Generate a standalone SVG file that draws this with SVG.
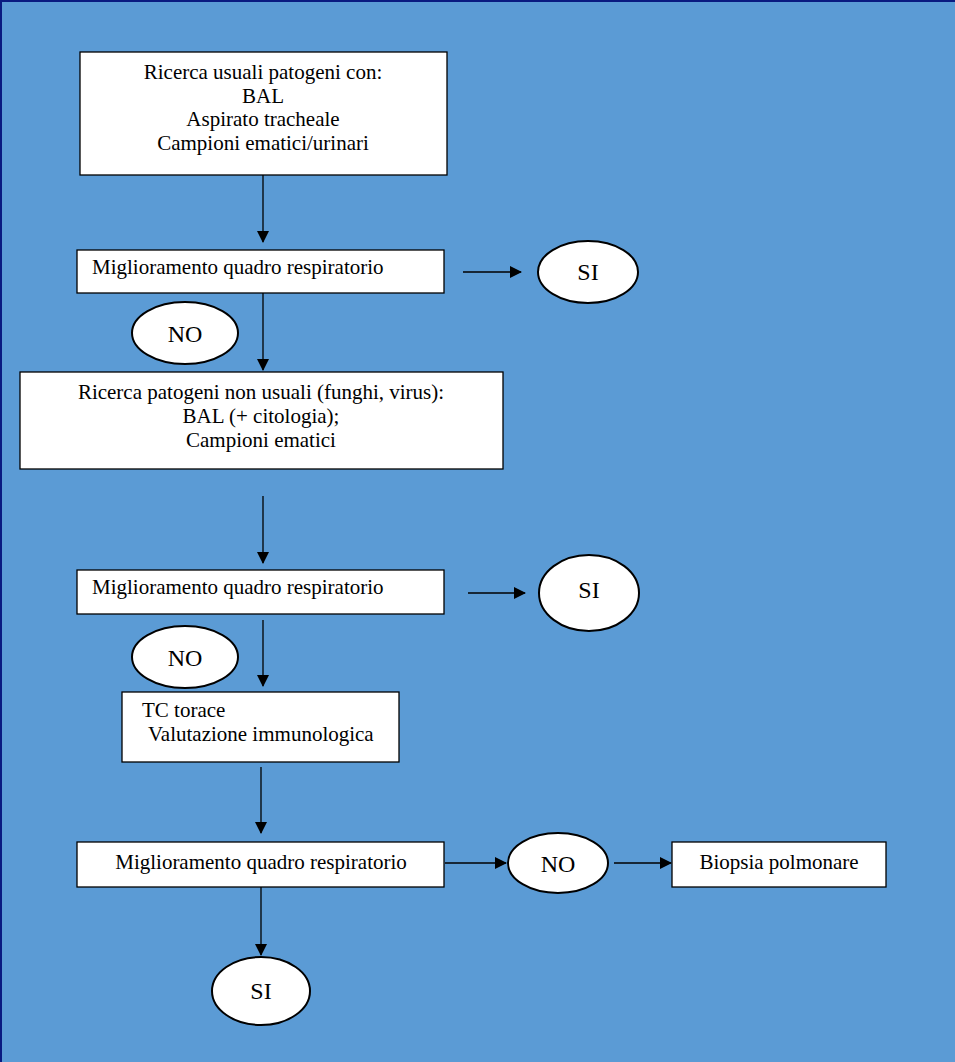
<svg xmlns="http://www.w3.org/2000/svg" width="955" height="1062" viewBox="0 0 955 1062">
<defs>
<marker id="ah" markerWidth="12" markerHeight="12" refX="11" refY="6" orient="auto" markerUnits="userSpaceOnUse">
<path d="M0,0 L12,6 L0,12 Z" fill="#000"/>
</marker>
<style>
.box{fill:#fff;stroke:#000;stroke-width:1.3}
.ell{fill:#fff;stroke:#000;stroke-width:2}
.t{font-family:"Liberation Serif","Times New Roman",serif;font-size:21px;fill:#000}
.c{text-anchor:middle}
.big{font-size:24px}
.ln{stroke:#000;stroke-width:1.3;fill:none;marker-end:url(#ah)}
</style>
</defs>
<rect x="0" y="0" width="955" height="1062" fill="#5B9BD5"/>
<path d="M1,1062 L1,1 L955,1" fill="none" stroke="#0A1A80" stroke-width="2"/>
<g id="connectors">
<line class="ln" x1="263" y1="175" x2="263" y2="242"/>
<line class="ln" x1="463" y1="272" x2="521" y2="272"/>
<line class="ln" x1="263" y1="293" x2="263" y2="370"/>
<line class="ln" x1="263" y1="496" x2="263" y2="563"/>
<line class="ln" x1="468" y1="593" x2="525" y2="593"/>
<line class="ln" x1="263" y1="620" x2="263" y2="686"/>
<line class="ln" x1="261" y1="767" x2="261" y2="833"/>
<line class="ln" x1="445" y1="863" x2="506" y2="863"/>
<line class="ln" x1="614" y1="863" x2="671" y2="863"/>
<line class="ln" x1="261" y1="887" x2="261" y2="955"/>
</g>
<g id="n1">
<rect class="box" x="80" y="52" width="367" height="123"/>
<text class="t c" x="263" y="79">Ricerca usuali patogeni con:</text>
<text class="t c" x="263" y="103">BAL</text>
<text class="t c" x="263" y="126">Aspirato tracheale</text>
<text class="t c" x="263" y="150">Campioni ematici/urinari</text>
</g>
<g id="n2">
<rect class="box" x="77" y="250" width="367" height="43"/>
<text class="t" x="92" y="274">Miglioramento quadro respiratorio</text>
</g>
<g id="n3">
<ellipse class="ell" cx="588" cy="272" rx="50" ry="31"/>
<text class="t c big" x="588" y="280">SI</text>
</g>
<g id="n4">
<ellipse class="ell" cx="185" cy="333" rx="53" ry="31"/>
<text class="t c big" x="185" y="342">NO</text>
</g>
<g id="n5">
<rect class="box" x="20" y="372" width="483" height="97"/>
<text class="t c" x="261" y="399">Ricerca patogeni non usuali (funghi, virus):</text>
<text class="t c" x="261" y="423">BAL (+ citologia);</text>
<text class="t c" x="261" y="447">Campioni ematici</text>
</g>
<g id="n6">
<rect class="box" x="77" y="570" width="367" height="44"/>
<text class="t" x="92" y="594">Miglioramento quadro respiratorio</text>
</g>
<g id="n7">
<ellipse class="ell" cx="589" cy="593" rx="50" ry="38"/>
<text class="t c big" x="589" y="598">SI</text>
</g>
<g id="n8">
<ellipse class="ell" cx="185" cy="657" rx="53" ry="31"/>
<text class="t c big" x="185" y="666">NO</text>
</g>
<g id="n9">
<rect class="box" x="122" y="692" width="277" height="70"/>
<text class="t" x="142" y="717">TC torace</text>
<text class="t" x="148" y="741">Valutazione immunologica</text>
</g>
<g id="n10">
<rect class="box" x="77" y="842" width="367" height="45"/>
<text class="t c" x="261" y="869">Miglioramento quadro respiratorio</text>
</g>
<g id="n11">
<ellipse class="ell" cx="558" cy="863" rx="50" ry="30"/>
<text class="t c big" x="558" y="872">NO</text>
</g>
<g id="n12">
<rect class="box" x="672" y="842" width="214" height="45"/>
<text class="t c" x="779" y="869">Biopsia polmonare</text>
</g>
<g id="n13">
<ellipse class="ell" cx="261" cy="991" rx="49" ry="34"/>
<text class="t c big" x="261" y="999">SI</text>
</g>
</svg>
